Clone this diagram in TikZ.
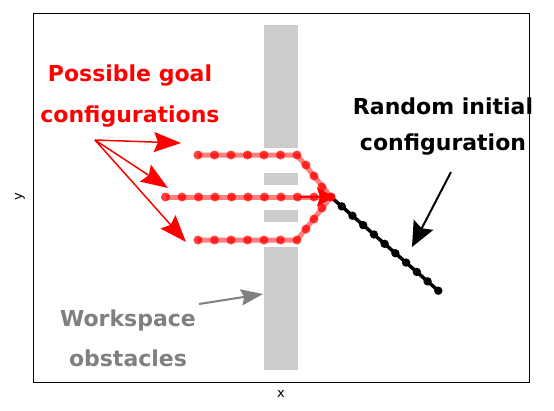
\documentclass[tikz,border=0pt]{standalone}
\usepackage{fontspec}
\setmainfont{DejaVu Sans}
\usetikzlibrary{arrows.meta}
\definecolor{obst}{RGB}{204,204,204}
\definecolor{wsgray}{RGB}{128,128,128}
\begin{document}
\begin{tikzpicture}[x=1pt,y=-1pt,
  bigtext/.style={font=\fontsize{22}{26}\selectfont\bfseries, inner sep=0pt},
  axlabel/.style={font=\fontsize{13}{15}\selectfont, inner sep=0pt},
  goalline/.style={red, opacity=0.5, line width=5pt, line join=round},
  goaldot/.style={red, opacity=0.75},
  redarrow/.style={red, line width=1.5pt, -{Stealth[length=27pt, width=20pt, inset=4pt]}},
  blackarrow/.style={black, line width=2pt, -{Stealth[length=25pt, width=22pt, inset=4pt]}},
  grayarrow/.style={wsgray, line width=2pt, -{Stealth[length=22pt, width=16pt, inset=3pt]}}]
\useasboundingbox (0,0) rectangle (554,410);
\fill[white] (0,0) rectangle (554,410);
% obstacles
\fill[obst] (264,25) rectangle (298,147.5);
\fill[obst] (264,172.7) rectangle (298,184.5);
\fill[obst] (264,210) rectangle (298,221.7);
\fill[obst] (264,246.7) rectangle (298,370);
% frame
\draw[line width=1pt] (33,13) rectangle (529,382);
\node[axlabel] (xlab) at (281,394) {x};
\node[axlabel, rotate=90] (ylab) at (20,197) {y};
% black initial configuration
\draw[black, line width=3.5pt, line join=round] (331,197) -- (438.3,290.7);
\foreach \i in {1,...,10} {
  \fill[black] ({331+10.73*\i},{197+9.37*\i}) circle (4.2pt);
}
% goal configurations
\draw[goalline] (198,155) -- (297,155) -- (331,197);
\draw[goalline] (165.5,197) -- (331,197);
\draw[goalline] (198,240) -- (297,240) -- (331,197);
\foreach \x in {198,214.5,231,247.5,264,280.5,297} {
  \fill[goaldot] (\x,155) circle (4.5pt);
  \fill[goaldot] (\x,240) circle (4.5pt);
}
\foreach \p in {(306,165),(314,176),(322,187),(306,229),(314,219),(322,208)} {
  \fill[goaldot] \p circle (4.5pt);
}
\foreach \x in {165.5,182,198.5,215,231.5,248,264.5,281,297.5,314} {
  \fill[goaldot] (\x,197) circle (4.5pt);
}
\coordinate (junction) at (331,197);
\coordinate (midtail) at (300,197);
\fill[red] (junction) circle (4.5pt);
\draw[red, line width=2.5pt, -{Stealth[length=17pt, width=19pt, inset=3pt]}] (midtail) -- ([xshift=3pt]junction);
% labels
\node[bigtext, red] (goal1) at (130,76) {Possible goal};
\node[bigtext, red] (goal2) at (130,117) {configurations};
\node[bigtext, black] (init1) at (443,106) {Random initial};
\node[bigtext, black] (init2) at (443,145) {configuration};
\node[bigtext, wsgray] (ws1) at (128,320) {Workspace};
\node[bigtext, wsgray] (ws2) at (128,358) {obstacles};
% annotation arrows
\coordinate (gsrc) at (95,140);
\coordinate (g1) at (181,143);
\coordinate (g2) at (168,188);
\coordinate (g3) at (186,242);
\draw[redarrow] (gsrc) -- (g1);
\draw[redarrow] (gsrc) -- (g2);
\draw[redarrow] (gsrc) -- (g3);
\coordinate (isrc) at (451,172);
\coordinate (itip) at (412,247);
\draw[blackarrow] (isrc) -- (itip);
\coordinate (wsrc) at (199,304);
\coordinate (wtip) at (263,294);
\draw[grayarrow] (wsrc) -- (wtip);
\end{tikzpicture}
\end{document}
